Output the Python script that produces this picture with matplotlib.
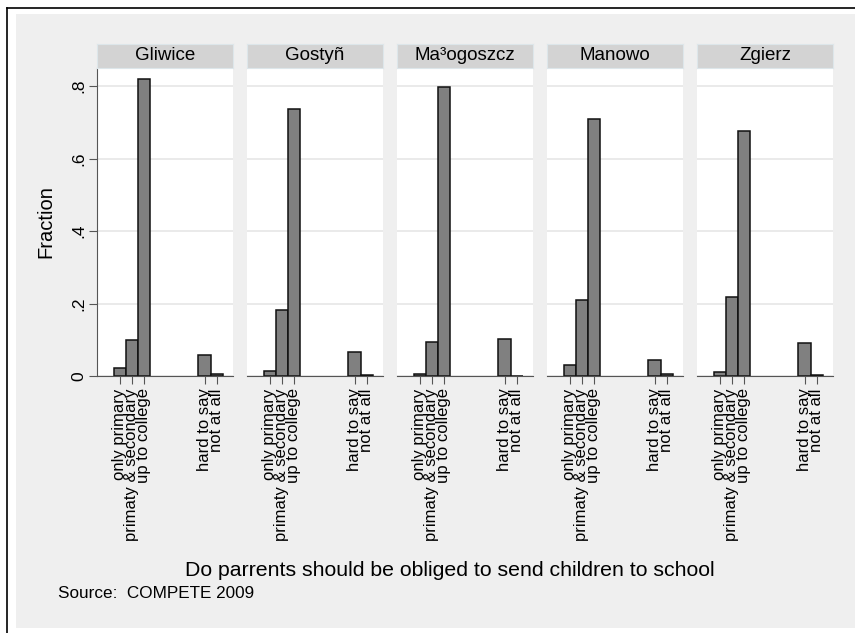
import matplotlib.pyplot as plt
from matplotlib.patches import Rectangle
from matplotlib.lines import Line2D

plt.rcParams['font.family'] = ['Liberation Sans', 'DejaVu Sans']

# answer codes and their labels
codes = [1, 2, 3, 8, 9]
code_labels = ['only primary', 'primaty & secondary', 'up to college',
               'hard to say', 'not at all']

towns = ['Gliwice', 'Gostyñ', 'Ma³ogoszcz', 'Manowo', 'Zgierz']

# fraction of answers per town
gliwice = [0.021, 0.099, 0.819, 0.059, 0.006]
gostyn = [0.014, 0.181, 0.736, 0.065, 0.004]
malogoszcz = [0.006, 0.095, 0.798, 0.102, 0.0]
manowo = [0.031, 0.211, 0.710, 0.045, 0.005]
zgierz = [0.012, 0.219, 0.676, 0.092, 0.003]
fractions = [gliwice, gostyn, malogoszcz, manowo, zgierz]

W, H = 855, 633
fig = plt.figure(figsize=(W / 100, H / 100), dpi=100)
fig.patch.set_facecolor('white')


def fx(px):
    return px / W


def fy(py):
    return 1 - py / H


# graph region + page frame
fig.patches.append(Rectangle((fx(16), fy(628)), fx(855 - 16), fy(14) - fy(628),
                             transform=fig.transFigure, facecolor='#efefef',
                             edgecolor='none', zorder=-5))
fig.lines.append(Line2D([fx(7), fx(7)], [fy(8), 0], transform=fig.transFigure,
                        color='black', lw=1.2, zorder=-4))
fig.lines.append(Line2D([fx(7), 1], [fy(8), fy(8)], transform=fig.transFigure,
                        color='black', lw=1.2, zorder=-4))

left0, step, pw = 97, 150, 136
top, bottom = 68, 376
axis_col = '#555555'

for i, (town, vals) in enumerate(zip(towns, fractions)):
    x0 = left0 + i * step
    ax = fig.add_axes([fx(x0), fy(bottom), fx(pw), fy(top) - fy(bottom)])
    ax.set_facecolor('white')
    ax.bar(codes, vals, width=1, color='#808080', edgecolor='#111111', lw=1.1, zorder=3)
    ax.set_xlim(-0.87, 10.35)
    ax.set_ylim(0, 0.85)
    ax.set_yticks([0, 0.2, 0.4, 0.6, 0.8])
    ax.grid(axis='y', color='#e6e6e6', lw=1.2, zorder=0)
    for s in ['top', 'right', 'left']:
        ax.spines[s].set_visible(False)
    ax.spines['bottom'].set_color(axis_col)
    ax.spines['bottom'].set_zorder(4)
    ax.set_xticks(codes)
    ax.set_xticklabels(code_labels, rotation=90, fontsize=12, linespacing=0.9)
    ax.tick_params(axis='x', length=6, color=axis_col, pad=3)
    if i == 0:
        ax.spines['left'].set_visible(True)
        ax.spines['left'].set_color(axis_col)
        ax.set_yticklabels(['0', '.2', '.4', '.6', '.8'], rotation=90,
                           va='center', fontsize=12.5)
        ax.tick_params(axis='y', length=6, color=axis_col, pad=2)
        ax.set_ylabel('Fraction', fontsize=14.5, labelpad=11)
    else:
        ax.tick_params(axis='y', length=0, labelleft=False)

    # facet strip
    sx = fig.add_axes([fx(x0), fy(68), fx(pw), fy(44) - fy(68)])
    sx.set_facecolor('#d3d3d3')
    sx.set_xticks([])
    sx.set_yticks([])
    for s in sx.spines.values():
        s.set_color('#dde6ea')
    sx.text(0.5, 0.5, town, ha='center', va='center', fontsize=13.5,
            transform=sx.transAxes)

fig.text(fx(450), fy(570), 'Do parrents should be obliged to send children to school',
         ha='center', va='center', fontsize=15.3)
fig.text(fx(58), fy(593), 'Source:  COMPETE 2009', ha='left', va='center',
         fontsize=12.3)

fig.savefig('out.png', dpi=100, facecolor=fig.get_facecolor())
